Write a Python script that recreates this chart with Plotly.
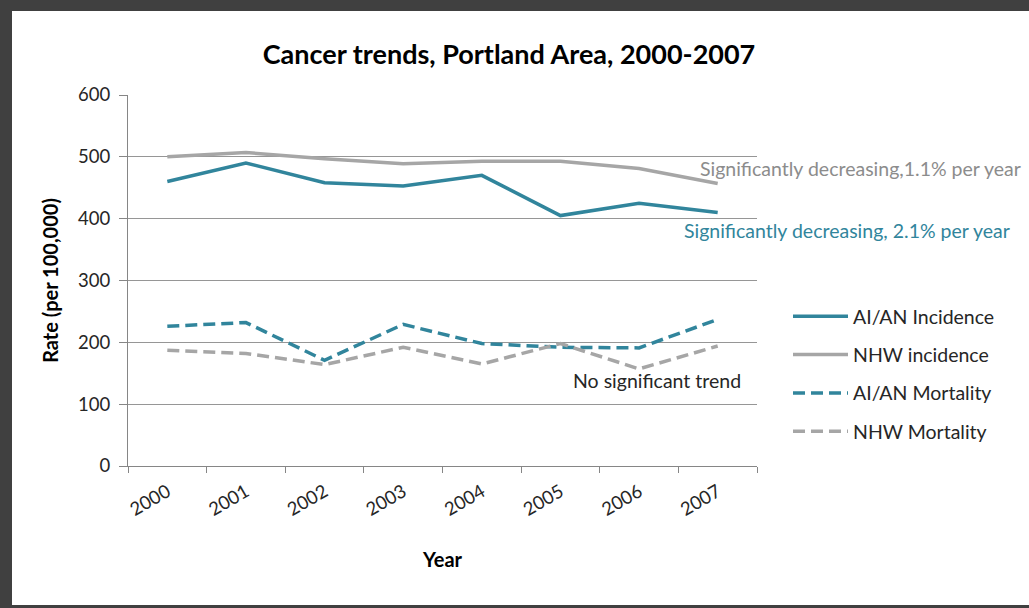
import plotly.graph_objects as go

years = ["2000", "2001", "2002", "2003", "2004", "2005", "2006", "2007"]
aian_incidence = [460, 490, 458, 453, 470, 405, 425, 410]
nhw_incidence = [500, 507, 497, 489, 493, 493, 481, 457]
aian_mortality = [226, 232, 171, 229, 198, 192, 191, 237]
nhw_mortality = [187, 182, 164, 192, 165, 198, 157, 194]

TEAL = "#31859C"
GRAY = "#A6A6A6"
FONT = "Lato, Open Sans, sans-serif"

W, H = 1029, 608
L, R, T, B = 128, 757, 95, 466


def px(x):
    return (x - L) / (R - L)


def py(y):
    return (B - y) / (B - T)


fig = go.Figure()
series = [
    ("AI/AN Incidence", aian_incidence, TEAL, "solid"),
    ("NHW incidence", nhw_incidence, GRAY, "solid"),
    ("AI/AN Mortality", aian_mortality, TEAL, "12px,6px"),
    ("NHW Mortality", nhw_mortality, GRAY, "12px,6px"),
]
for name, vals, col, dash in series:
    fig.add_trace(go.Scatter(
        x=years, y=vals, name=name, mode="lines", legendgroup=name,
        line=dict(color=col, width=3.5, dash=dash),
    ))

fig.update_layout(
    width=W, height=H,
    margin=dict(l=L, r=W - R, t=T, b=H - B),
    paper_bgcolor="white", plot_bgcolor="white",
    font=dict(family=FONT, size=18, color="#262626"),
    title=dict(text="<b>Cancer trends, Portland Area, 2000-2007</b>",
               x=509 / W, xanchor="center", y=1 - 55 / H, yanchor="middle",
               font=dict(size=27, color="#000000")),
    showlegend=True,
    legend=dict(x=px(788), y=py(297), xanchor="left", yanchor="top",
                font=dict(size=19.5, color="#262626"), itemwidth=55,
                traceorder="grouped", tracegroupgap=10,
                bgcolor="rgba(0,0,0,0)"),
    xaxis=dict(
        type="category", showgrid=False, showline=True, linecolor="#868686",
        linewidth=1, ticks="outside", tickson="boundaries", ticklen=6,
        tickcolor="#868686", tickangle=-30, tickfont=dict(size=18.5, color="#262626"),
        ticklabelstandoff=7,
        title=dict(text="<b>Year</b>", font=dict(size=20, color="#000000"), standoff=34),
        range=[-0.5, 7.5], fixedrange=True,
    ),
    yaxis=dict(
        range=[0, 600], dtick=100, showgrid=True, gridcolor="#969696", gridwidth=1,
        showline=True, linecolor="#868686", linewidth=1, ticks="outside",
        ticklen=8, tickcolor="#868686", zeroline=False,
        tickfont=dict(size=18.5, color="#262626"), ticklabelstandoff=5,
        title=dict(text="<b>Rate (per 100,000)</b>", font=dict(size=20, color="#000000"), standoff=14),
    ),
)

annots = [
    ("Significantly decreasing,1.1% per year", 698, 168, "#8C8C8C"),
    ("Significantly decreasing, 2.1% per year", 682, 231, TEAL),
    ("No significant trend", 571, 380, "#262626"),
]
for text, x, y, col in annots:
    fig.add_annotation(text=text, x=px(x), y=py(y), xref="paper", yref="paper",
                       xanchor="left", yanchor="middle", showarrow=False,
                       font=dict(size=19.5, color=col, family=FONT))

# dark frame around the picture
frame = "#404040"
fig.add_shape(type="rect", xref="paper", yref="paper", x0=px(0), x1=px(W), y0=py(0), y1=py(11),
              fillcolor=frame, line_width=0, layer="above")
fig.add_shape(type="rect", xref="paper", yref="paper", x0=px(0), x1=px(12), y0=py(0), y1=py(H),
              fillcolor=frame, line_width=0, layer="above")
fig.add_shape(type="rect", xref="paper", yref="paper", x0=px(0), x1=px(W), y0=py(605), y1=py(H),
              fillcolor=frame, line_width=0, layer="above")

fig.write_html("out.html")
